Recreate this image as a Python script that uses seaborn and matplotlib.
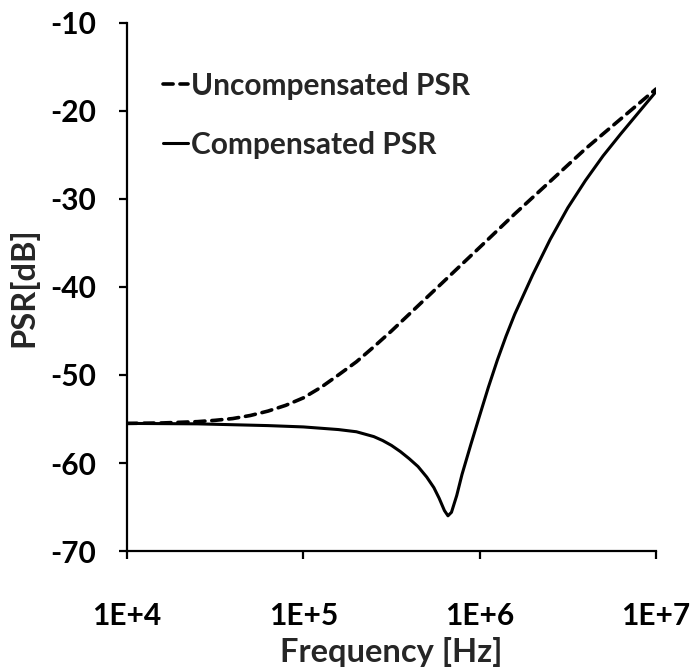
import numpy as np
import pandas as pd
import matplotlib
matplotlib.use("Agg")
import matplotlib.pyplot as plt
import seaborn as sns

# ---- data ----
unc_freq = [1.0e4, 1.58e4, 2.51e4, 3.16e4, 3.98e4, 5.01e4, 6.31e4, 7.94e4,
            1.0e5, 1.26e5, 1.58e5, 2.0e5, 2.51e5, 3.16e5, 3.98e5, 5.01e5,
            6.31e5, 7.94e5, 1.0e6, 1.58e6, 2.51e6, 3.98e6, 6.31e6, 1.0e7]
unc_psr = [-55.5, -55.45, -55.3, -55.15, -54.95, -54.6, -54.1, -53.45,
           -52.6, -51.4, -50.0, -48.5, -46.8, -45.0, -43.1, -41.2,
           -39.3, -37.4, -35.5, -31.7, -28.0, -24.3, -20.9, -17.5]

comp_freq = [1.0e4, 2.51e4, 6.31e4, 1.0e5, 1.58e5, 2.0e5, 2.51e5, 2.82e5,
             3.16e5, 3.55e5, 3.98e5, 4.47e5, 5.01e5, 5.50e5, 5.89e5, 6.31e5,
             6.61e5, 6.92e5, 7.41e5, 7.94e5, 8.91e5, 1.0e6, 1.12e6, 1.26e6,
             1.41e6, 1.58e6, 2.0e6, 2.51e6, 3.16e6, 3.98e6, 5.01e6, 6.31e6,
             7.94e6, 1.0e7]
comp_psr = [-55.5, -55.55, -55.75, -55.9, -56.2, -56.45, -57.0, -57.45,
            -58.0, -58.7, -59.5, -60.4, -61.6, -62.8, -64.0, -65.4,
            -66.0, -65.6, -63.7, -61.3, -57.9, -54.6, -51.4, -48.3,
            -45.6, -43.1, -38.6, -34.6, -31.0, -27.9, -25.1, -22.6,
            -20.2, -17.8]

y_ticks = [-10, -20, -30, -40, -50, -60, -70]
x_ticks = [1e4, 1e5, 1e6, 1e7]
x_ticklabels = ["1E+4", "1E+5", "1E+6", "1E+7"]
series_names = ["Uncompensated PSR", "Compensated PSR"]

# ---- style ----
sns.set_style("ticks")
plt.rcParams["font.family"] = ["Lato", "DejaVu Sans"]
plt.rcParams["font.weight"] = "bold"
plt.rcParams["axes.unicode_minus"] = False

fig = plt.figure(figsize=(6.92, 6.70), dpi=100)
ax = fig.add_axes([0.1835, 0.1776, 0.948 - 0.1835, 0.9657 - 0.1776])

df_unc = pd.DataFrame({"freq": unc_freq, "psr": unc_psr})
df_comp = pd.DataFrame({"freq": comp_freq, "psr": comp_psr})

sns.lineplot(data=df_unc, x="freq", y="psr", ax=ax, color="black",
             linewidth=2.6, label=series_names[0], sort=True, estimator=None)
sns.lineplot(data=df_comp, x="freq", y="psr", ax=ax, color="black",
             linewidth=2.2, label=series_names[1], sort=True, estimator=None)
l_unc, l_comp = ax.get_lines()[:2]
l_unc.set_dashes([2.8, 1.9])
l_unc.set_dash_capstyle("round")
l_comp.set_solid_capstyle("round")

ax.set_xscale("log")
ax.set_xlim(1e4, 1e7)
ax.set_ylim(-70, -10)
ax.set_xticks(x_ticks)
ax.set_xticklabels(x_ticklabels)
ax.minorticks_off()
ax.set_yticks(y_ticks)

for s in ["top", "right"]:
    ax.spines[s].set_visible(False)
for s in ["left", "bottom"]:
    ax.spines[s].set_linewidth(1.6)
    ax.spines[s].set_color("black")

ax.tick_params(axis="x", direction="out", length=6, width=1.6,
               labelsize=21.5, pad=31, colors="black")
ax.tick_params(axis="y", direction="out", length=6, width=1.6,
               labelsize=21.5, pad=16, colors="black")
for lab in ax.get_xticklabels() + ax.get_yticklabels():
    lab.set_fontweight("bold")

ax.set_xlabel("Frequency [Hz]", fontsize=23.5, fontweight="bold", labelpad=5)
ax.set_ylabel("PSR[dB]", fontsize=23.5, fontweight="bold", labelpad=9)

leg = ax.legend(loc="upper left", bbox_to_anchor=(0.068, 0.908),
                frameon=False, handlelength=0.85, handletextpad=0.1,
                labelspacing=1.05, borderaxespad=0, borderpad=0,
                prop={"size": 21.5, "weight": "bold"})

fig.savefig("out.png", dpi=100)
